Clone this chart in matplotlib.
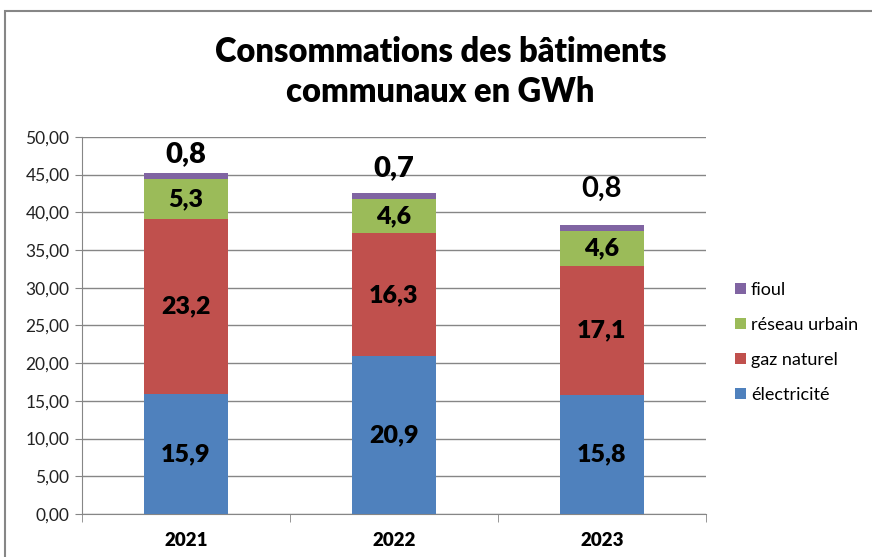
import numpy as np
import matplotlib
matplotlib.use("Agg")
import matplotlib.pyplot as plt
from matplotlib.patches import Rectangle

# ── Data ──────────────────────────────────────────────────────────────────────
years = ["2021", "2022", "2023"]
series = ["électricité", "gaz naturel", "réseau urbain", "fioul"]
electricite = [15.9, 20.9, 15.8]
gaz_naturel = [23.2, 16.3, 17.1]
reseau_urbain = [5.3, 4.6, 4.6]
fioul = [0.8, 0.7, 0.8]
yticks = [0, 5, 10, 15, 20, 25, 30, 35, 40, 45, 50]

colors = ["#4F81BD", "#C0504D", "#9BBB59", "#8064A2"]
fioul_offsets = [14, 18, 26]          # label lift above bar top, in points
fioul_weights = ["heavy", "heavy", "bold"]

plt.rcParams["font.family"] = ["Lato", "DejaVu Sans"]

fig = plt.figure(figsize=(8.72, 5.57), dpi=100)
ax = fig.add_axes([0.094, 0.0772, 0.7156, 0.677])

# outer chart border (cropped on right / bottom)
fig.patches.append(Rectangle((5 / 872, -0.1), 1.2, 1 - 11 / 557 + 0.1,
                             transform=fig.transFigure, fill=False,
                             edgecolor="#868686", linewidth=1.5))

x = np.arange(len(years))
values = [electricite, gaz_naturel, reseau_urbain, fioul]
bottom = np.zeros(len(years))
bars = []
for name, vals, col in zip(series, values, colors):
    b = ax.bar(x, vals, width=0.4, bottom=bottom, color=col, label=name, zorder=3)
    bars.append(b)
    bottom = bottom + np.array(vals)

# labels inside the three lower segments
for b, vals in zip(bars[:3], values[:3]):
    for rect, v in zip(b, vals):
        ax.text(rect.get_x() + rect.get_width() / 2,
                rect.get_y() + rect.get_height() / 2,
                f"{v:.1f}".replace(".", ","), ha="center", va="center",
                fontsize=18, fontweight="heavy", color="black", zorder=4)

# fioul labels above bars
for rect, v, off, w in zip(bars[3], fioul, fioul_offsets, fioul_weights):
    ax.annotate(f"{v:.1f}".replace(".", ","),
                (rect.get_x() + rect.get_width() / 2, rect.get_y() + rect.get_height()),
                xytext=(0, off), textcoords="offset points",
                ha="center", va="center", fontsize=21, fontweight=w, zorder=4)

ax.set_xlim(-0.5, len(years) - 0.5)
ax.set_ylim(0, 50)
ax.set_yticks(yticks)
ax.set_yticklabels([f"{t:.2f}".replace(".", ",") for t in yticks],
                   fontsize=12.5, color="#222222")
ax.yaxis.grid(True, color="#868686", linewidth=1, zorder=0)
ax.set_xticks(x)
ax.set_xticklabels(years, fontsize=13.5, fontweight="heavy")
ax.tick_params(axis="x", length=0, pad=13)
ax.set_xticks(np.arange(-0.5, len(years)), minor=True)
ax.tick_params(axis="x", which="minor", length=6, color="#868686")
ax.tick_params(axis="y", length=5, color="#868686", pad=4)

for s in ["top", "right"]:
    ax.spines[s].set_visible(False)
for s in ["left", "bottom"]:
    ax.spines[s].set_color("#868686")

fig.text(0.505, 0.871, "Consommations des bâtiments\ncommunaux en GWh",
         ha="center", va="center", fontsize=23.5, fontweight="heavy",
         linespacing=1.33)

handles, labels = ax.get_legend_handles_labels()
leg = fig.legend(handles[::-1], labels[::-1], loc="center left",
                 bbox_to_anchor=(0.824, 0.385), frameon=False, fontsize=13,
                 handlelength=0.6, handleheight=0.6, handletextpad=0.3,
                 labelspacing=1.05)

fig.savefig("out.png", dpi=100)
